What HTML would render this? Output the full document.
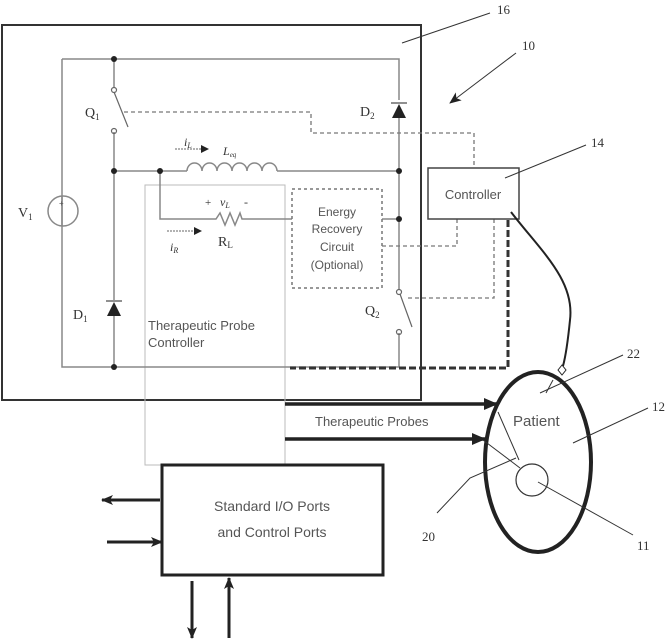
<!DOCTYPE html>
<html><head><meta charset="utf-8"><style>
html,body{margin:0;padding:0;background:#fff}
svg{display:block}
text{font-family:"Liberation Sans",sans-serif;fill:#555}
.s{font-family:"Liberation Serif",serif;fill:#333}
</style></head><body>
<svg width="671" height="640" viewBox="0 0 671 640" xmlns="http://www.w3.org/2000/svg">
<defs>
<marker id="ah" markerWidth="8" markerHeight="8" refX="7" refY="4" orient="auto" markerUnits="userSpaceOnUse"><path d="M0,0 L8,4 L0,8 z" fill="#222"/></marker>
<marker id="ah2" markerWidth="14" markerHeight="12" refX="13" refY="6" orient="auto" markerUnits="userSpaceOnUse"><path d="M0,0 L14,6 L0,12 z" fill="#222"/></marker>
<marker id="ah3" markerWidth="12" markerHeight="10" refX="11" refY="5" orient="auto" markerUnits="userSpaceOnUse"><path d="M0,0 L12,5 L0,10 L3,5 z" fill="#222"/></marker>
</defs>
<rect x="2" y="25" width="419" height="375" fill="none" stroke="#333" stroke-width="2"/>
<rect x="145" y="185" width="140" height="280" fill="none" stroke="#bbb" stroke-width="1"/>
<g stroke="#888" stroke-width="1.5" fill="none">
<path d="M62,59 H399 V100"/>
<path d="M399,118 V290"/>
<path d="M399,333 V367 H62 V196"/>
<path d="M62,226 V59"/>
<path d="M114,59 V88"/>
<path d="M114,132 V300"/>
<path d="M114,316 V367"/>
<path d="M114,171 H187"/>
<path d="M187,171 a7.5,8 0 0 1 15,0 a7.5,8 0 0 1 15,0 a7.5,8 0 0 1 15,0 a7.5,8 0 0 1 15,0 a7.5,8 0 0 1 15,0 a7.5,8 0 0 1 15,0"/>
<path d="M277,171 H399"/>
<path d="M160,171 V219 H216 l4,-6 l5,12 l5,-12 l5,12 l5,-12 l2,6 H292"/>
<path d="M382,219 H399"/>
</g>
<circle cx="63" cy="211" r="15" fill="none" stroke="#888" stroke-width="1.5"/>
<text x="59" y="206" font-size="8">+</text>
<g stroke="#666" stroke-width="1.2" fill="none">
<circle cx="114" cy="90" r="2.5"/><circle cx="114" cy="131" r="2.5"/>
<path d="M114,92 L128,127"/>
<circle cx="399" cy="292" r="2.5"/><circle cx="399" cy="332" r="2.5"/>
<path d="M400,294 L412,327"/>
</g>
<path d="M392,118 L406,118 L399,104 z" fill="#222"/><path d="M391,103 H407" stroke="#222"/>
<path d="M107,316 L121,316 L114,302 z" fill="#222"/><path d="M106,301 H122" stroke="#222"/>
<g fill="#222"><circle cx="114" cy="59" r="3"/><circle cx="114" cy="171" r="3"/><circle cx="160" cy="171" r="3"/><circle cx="399" cy="171" r="3"/><circle cx="399" cy="219" r="3"/><circle cx="114" cy="367" r="3"/></g>
<path d="M175,149 H208" stroke="#666" stroke-dasharray="2,1" marker-end="url(#ah)"/>
<path d="M167,231 H201" stroke="#666" stroke-dasharray="2,1" marker-end="url(#ah)"/>
<rect x="292" y="189" width="90" height="99" fill="none" stroke="#777" stroke-width="1.5" stroke-dasharray="3,3"/>
<g stroke="#777" stroke-width="1.3" fill="none" stroke-dasharray="4,3">
<path d="M124,112 H311 V133 H474 V168"/>
<path d="M457,219 V246 H382"/>
<path d="M494,219 V298 H407"/>
</g>
<path d="M508,220 V368 H290" stroke="#333" stroke-width="3" fill="none" stroke-dasharray="7,3"/>
<rect x="428" y="168" width="91" height="51" fill="none" stroke="#444" stroke-width="1.5"/>
<text x="473" y="199" font-size="13" text-anchor="middle">Controller</text>
<path d="M511,212 C540,250 575,280 570,320 C568,340 566,355 563,366" stroke="#222" stroke-width="2" fill="none"/>
<path d="M558,370 l4,-5 l4,5 l-4,5 z" fill="#fff" stroke="#222"/>
<ellipse cx="538" cy="462" rx="53" ry="90" fill="none" stroke="#222" stroke-width="4"/>
<circle cx="532" cy="480" r="16" fill="none" stroke="#333" stroke-width="1.2"/>
<text x="513" y="426" font-size="15">Patient</text>
<path d="M285,404 H497" stroke="#222" stroke-width="3.5" marker-end="url(#ah2)"/>
<path d="M285,439 H485" stroke="#222" stroke-width="3.5" marker-end="url(#ah2)"/>
<text x="315" y="426" font-size="13">Therapeutic Probes</text>
<g stroke="#333" stroke-width="1" fill="none">
<path d="M498,412 L519,460"/><path d="M483,440 L520,468"/>
<path d="M437,513 L470,478 L516,458"/>
<path d="M538,482 L633,535"/>
<path d="M540,393 L623,355"/><path d="M546,393 L553,380"/>
<path d="M573,443 L648,408"/>
<path d="M402,43 L490,13"/>
<path d="M505,178 L586,145"/>
</g>
<path d="M516,53 L450,103" stroke="#333" marker-end="url(#ah3)"/>
<rect x="162" y="465" width="221" height="110" fill="none" stroke="#222" stroke-width="3"/>
<text x="272" y="511" font-size="14" text-anchor="middle">Standard I/O Ports</text>
<text x="272" y="537" font-size="14" text-anchor="middle">and Control Ports</text>
<path d="M160,500 H102" stroke="#222" stroke-width="3" marker-end="url(#ah3)"/>
<path d="M107,542 H162" stroke="#222" stroke-width="3" marker-end="url(#ah3)"/>
<path d="M192,581 V638" stroke="#222" stroke-width="3" marker-end="url(#ah3)"/>
<path d="M229,638 V578" stroke="#222" stroke-width="3" marker-end="url(#ah3)"/>
<text class="s" x="85" y="117" font-size="14">Q<tspan font-size="9" dy="3">1</tspan></text>
<text class="s" x="360" y="116" font-size="14">D<tspan font-size="9" dy="3">2</tspan></text>
<text class="s" x="18" y="217" font-size="14">V<tspan font-size="9" dy="3">1</tspan></text>
<text class="s" x="73" y="319" font-size="14">D<tspan font-size="9" dy="3">1</tspan></text>
<text class="s" x="365" y="315" font-size="14">Q<tspan font-size="9" dy="3">2</tspan></text>
<text class="s" x="184" y="146" font-size="12" font-style="italic">i<tspan font-size="8" dy="2">L</tspan></text>
<text class="s" x="223" y="155" font-size="12" font-style="italic">L<tspan font-size="7" dy="2">eq</tspan></text>
<text class="s" x="205" y="206" font-size="11">+</text>
<text class="s" x="220" y="206" font-size="12" font-style="italic">v<tspan font-size="8" dy="2">L</tspan></text>
<text class="s" x="244" y="206" font-size="12">-</text>
<text class="s" x="218" y="246" font-size="14">R<tspan font-size="9" dy="2">L</tspan></text>
<text class="s" x="170" y="251" font-size="12" font-style="italic">i<tspan font-size="8" dy="2">R</tspan></text>
<text x="337" y="216" font-size="12" text-anchor="middle">Energy</text>
<text x="337" y="233" font-size="12" text-anchor="middle">Recovery</text>
<text x="337" y="251" font-size="12" text-anchor="middle">Circuit</text>
<text x="337" y="269" font-size="12" text-anchor="middle">(Optional)</text>
<text x="148" y="330" font-size="13">Therapeutic Probe</text>
<text x="148" y="347" font-size="13">Controller</text>
<text class="s" x="497" y="14" font-size="13">16</text>
<text class="s" x="522" y="50" font-size="13">10</text>
<text class="s" x="591" y="147" font-size="13">14</text>
<text class="s" x="627" y="358" font-size="13">22</text>
<text class="s" x="652" y="411" font-size="13">12</text>
<text class="s" x="422" y="541" font-size="13">20</text>
<text class="s" x="637" y="550" font-size="13">11</text>
</svg>
</body></html>
